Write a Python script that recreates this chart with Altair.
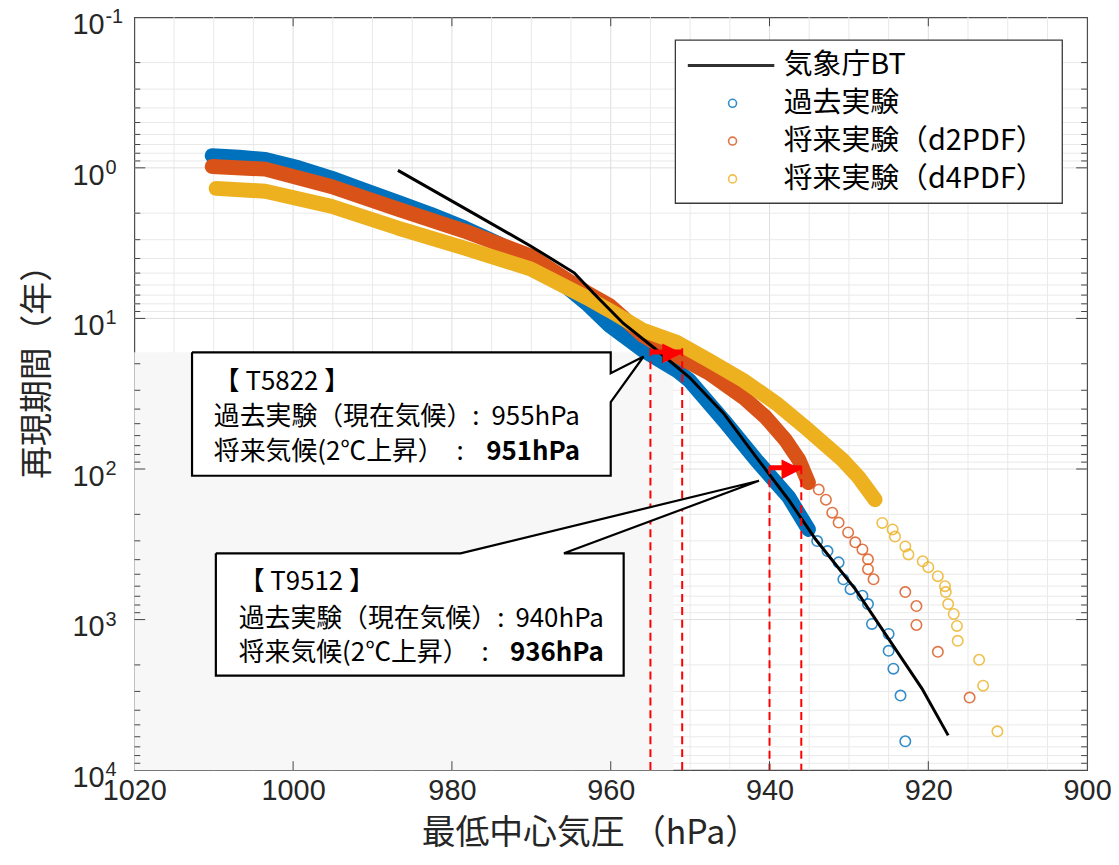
import altair as alt
import pandas as pd

JP = "Noto Sans CJK JP"
NUM = "Liberation Sans, Arial, sans-serif"

# ---------------- data ----------------
SERIES = ["気象庁BT", "過去実験", "将来実験（d2PDF）", "将来実験（d4PDF）"]
COLORS = ["#000000", "#0072BD", "#D95319", "#EDB120"]
SHAPES = ["M-11.25,-0.2L10.5,-0.2M-11.25,0.2L10.5,0.2", "circle", "circle", "circle"]

# 気象庁BT (line)
BT_P = [986.8, 978.0, 970.1, 964.6, 962.1, 958.4, 954.6, 950.1, 945.8, 941.7,
        937.6, 934.2, 929.2, 925.0, 920.8, 917.5]
BT_Y = [1.04, 1.91, 3.30, 4.98, 6.86, 10.8, 15.6, 24.6, 42.6, 83.1,
        160, 293, 628, 1343, 2872, 5875]

# 過去実験: dense band + sparse tail
PAST_BAND_P = [1010.2, 1006.8, 1003.5, 999.3, 995.2, 991.0, 986.8, 982.7, 978.4, 974.3,
               970.1, 966.8, 963.0, 960.1, 955.9, 951.7, 950.1, 945.8, 941.7, 937.6, 935.1]
PAST_BAND_Y = [0.83, 0.85, 0.88, 1.00, 1.17, 1.41, 1.69, 2.03, 2.51, 3.16,
               4.03, 5.46, 7.98, 11.2, 16.3, 22.1, 25.8, 47.3, 86.9, 153, 252]
PAST_TAIL_P = [934.0, 932.7, 931.3, 930.7, 929.8, 928.3, 927.6, 927.1, 925.0, 925.0,
               924.4, 923.5, 922.9]
PAST_TAIL_Y = [301, 351, 417, 540, 628, 695, 789, 1069, 1245, 1612,
               2119, 3197, 6427]

# 将来実験(d2PDF)
D2_BAND_P = [1010.2, 1003.5, 995.2, 986.8, 978.4, 970.1, 963.0, 960.1, 955.9, 951.7,
             947.6, 943.3, 940.5, 938.0, 936.3, 935.1]
D2_BAND_Y = [0.98, 1.02, 1.33, 1.88, 2.63, 3.85, 6.75, 8.23, 13.0, 17.6,
             23.1, 33.4, 45.2, 64.1, 86.9, 123]
D2_TAIL_P = [933.8, 932.9, 932.1, 931.3, 930.1, 929.2, 928.3, 927.6, 927.6, 926.9,
             922.9, 921.5, 921.5, 918.8, 914.8]
D2_TAIL_Y = [137, 160, 195, 227, 264, 307, 342, 398, 463, 540,
             657, 813, 1086, 1637, 3296]

# 将来実験(d4PDF)
D4_BAND_P = [1009.7, 1003.5, 995.2, 986.8, 978.4, 970.1, 963.0, 960.1, 955.9, 951.7,
             947.6, 943.3, 939.2, 935.1, 930.8, 928.8, 926.7]
D4_BAND_Y = [1.37, 1.43, 1.80, 2.51, 3.41, 4.69, 7.29, 8.88, 12.0, 14.4,
             19.0, 25.8, 36.5, 55.1, 86.9, 113, 160]
D4_TAIL_P = [925.8, 924.5, 924.2, 922.9, 922.5, 920.7, 920.0, 918.8, 917.9, 917.8,
             917.5, 916.8, 916.4, 916.3, 913.6, 913.1, 911.3]
D4_TAIL_Y = [228, 252, 281, 327, 369, 410, 449, 515, 600, 657,
             789, 918, 1102, 1384, 1849, 2746, 5520]

# axis ticks / grid
X_TICKS = [1020, 1000, 980, 960, 940, 920, 900]
X_GRID_MAJOR = [1000, 980, 960, 940, 920]
X_GRID_MINOR = [1015, 1010, 1005, 995, 990, 985, 975, 970, 965, 955, 950, 945,
                935, 930, 925, 915, 910, 905]
Y_TICKS = [0.1, 1, 10, 100, 1000, 10000]
Y_EXP = ["-1", "0", "1", "2", "3", "4"]
Y_GRID_MAJOR = [1, 10, 100, 1000]
Y_GRID_MINOR = [0.2, 0.3, 0.4, 0.5, 0.6, 0.7, 0.8, 0.9,
                2, 3, 4, 5, 6, 7, 8, 9,
                20, 30, 40, 50, 60, 70, 80, 90,
                200, 300, 400, 500, 600, 700, 800, 900,
                2000, 3000, 4000, 5000, 6000, 7000, 8000, 9000]

# annotations (data coordinates: hPa, years)
DASH_P = [955, 951, 940, 936]
DASH_TOP = [15.8, 15.8, 96, 96]
DASH_BOTTOM = [10000, 10000, 10000, 10000]
ARROW_FROM = [955, 940]
ARROW_TO = [951, 936]
ARROW_Y = [16.7, 98]
GRAY_P = [1020, 952.1]
GRAY_Y = [16.8, 10000]
LEGBOX_P = [951.86, 903.13]
LEGBOX_Y = [0.1419, 1.718]

BOX1_P = [1012.73, 960.0, 960.0, 955.86, 960.0, 960.0, 1012.73, 1012.73]
BOX1_Y = [16.8, 16.8, 23.1, 17.9, 36.0, 110.9, 110.9, 16.8]
BOX2_P = [1009.73, 978.91, 941.33, 965.89, 958.37, 958.37, 1009.73, 1009.73]
BOX2_Y = [363, 363, 119.7, 363, 363, 2358, 2358, 363]

NOTE_TEXT = ["【 T5822 】", "過去実験（現在気候）:", "将来気候(2℃上昇）　:",
             "【 T9512 】", "過去実験（現在気候）:", "将来気候(2℃上昇）　:"]
NOTE_P = [1009.98, 1009.98, 1009.98, 1006.85, 1006.85, 1006.85]
NOTE_Y = [26.5, 45.2, 77.0, 564.8, 991, 1662]
VAL_TEXT = ["955hPa", "951hPa", "940hPa", "936hPa"]
VAL_P = [963.88, 963.88, 960.87, 960.87]
VAL_Y = [45.2, 77.0, 991, 1662]
VAL_BOLD = [False, True, False, True]

# ---------------- chart ----------------
W, H = 958, 757

XS = alt.Scale(domain=[900, 1020], reverse=True, nice=False, zero=False)
YS = alt.Scale(type="log", domain=[0.1, 10000], reverse=True, nice=False)
XAX = alt.Axis(values=X_TICKS, labelFont=NUM, labelFontSize=29, labelColor="#262626",
               ticks=False, domain=False, grid=False, labelPadding=7, labelFlush=False,
               labelOverlap=False, format="d",
               title="最低中心気圧 （hPa）", titleFont=JP, titleFontSize=34,
               titleFontWeight="normal", titleColor="#262626",
               titleX=458, titleY=64, titleBaseline="middle", titleAlign="center")
YAX = alt.Axis(labels=False, ticks=False, domain=False, grid=False,
               title="再現期間（年）", titleFont=JP, titleFontSize=33,
               titleFontWeight="normal", titleColor="#262626", titleAngle=270,
               titleX=-97, titleY=348, titleAlign="center", titleBaseline="middle")
CS = alt.Scale(domain=SERIES, range=COLORS)
SS = alt.Scale(domain=SERIES, range=SHAPES)
LEG = alt.Legend(title=None, orient="none", legendX=587, legendY=34,
                 labelFont=JP, labelFontSize=29, labelColor="black", labelLimit=500,
                 symbolSize=64, symbolStrokeWidth=1.6, labelOffset=37, rowPadding=8,
                 padding=0)


def X(f="p"):
    return alt.X(f"{f}:Q", scale=XS, axis=XAX)


def Y(f="y"):
    return alt.Y(f"{f}:Q", scale=YS, axis=YAX)


def C():
    return alt.Color("s:N", scale=CS, legend=LEG)


def S():
    return alt.Shape("s:N", scale=SS, legend=LEG)


def df_series(name, ps, ys):
    return pd.DataFrame({"s": name, "p": ps, "y": ys, "i": list(range(len(ps)))})


layers = []

# grid
xg_min = pd.DataFrame({"p": X_GRID_MINOR})
xg_maj = pd.DataFrame({"p": X_GRID_MAJOR})
yg_min = pd.DataFrame({"y": Y_GRID_MINOR})
yg_maj = pd.DataFrame({"y": Y_GRID_MAJOR})
layers.append(alt.Chart(xg_min).mark_rule(color="#e9e9e9", strokeWidth=1).encode(
    x=X(), y=alt.value(0), y2=alt.value(H)))
layers.append(alt.Chart(xg_maj).mark_rule(color="#dedede", strokeWidth=1).encode(
    x=X(), y=alt.value(0), y2=alt.value(H)))
layers.append(alt.Chart(yg_min).mark_rule(color="#e9e9e9", strokeWidth=1).encode(
    y=Y(), x=alt.value(0), x2=alt.value(W)))
layers.append(alt.Chart(yg_maj).mark_rule(color="#dedede", strokeWidth=1).encode(
    y=Y(), x=alt.value(0), x2=alt.value(W)))

# light gray pasted region
gray = pd.DataFrame({"p": [GRAY_P[0]], "p2": [GRAY_P[1]], "y": [GRAY_Y[0]], "y2": [GRAY_Y[1]]})
layers.append(alt.Chart(gray).mark_rect(color="#f7f7f7").encode(
    x=X(), x2="p2:Q", y=Y(), y2="y2:Q"))

# legend frame (white box behind the legend entries)
legbox = pd.DataFrame({"p": [LEGBOX_P[0]], "p2": [LEGBOX_P[1]],
                       "y": [LEGBOX_Y[0]], "y2": [LEGBOX_Y[1]]})
layers.append(alt.Chart(legbox).mark_rect(fill="white", stroke="#3a3a3a",
                                          strokeWidth=1.3).encode(
    x=X(), x2="p2:Q", y=Y(), y2="y2:Q"))

# data series: band + tail circles
for name, bp, by, tp, ty in [
    (SERIES[1], PAST_BAND_P, PAST_BAND_Y, PAST_TAIL_P, PAST_TAIL_Y),
    (SERIES[2], D2_BAND_P, D2_BAND_Y, D2_TAIL_P, D2_TAIL_Y),
    (SERIES[3], D4_BAND_P, D4_BAND_Y, D4_TAIL_P, D4_TAIL_Y),
]:
    band = df_series(name, bp, by)
    tail = df_series(name, tp, ty)
    layers.append(alt.Chart(band).mark_line(strokeWidth=15, strokeCap="round",
                                            strokeJoin="round").encode(
        x=X(), y=Y(), color=C(), order="i:Q"))
    layers.append(alt.Chart(tail).mark_point(filled=False, size=110, strokeWidth=1.6,
                                             opacity=0.8).encode(
        x=X(), y=Y(), color=C(), shape=S()))

# 気象庁BT
bt = df_series(SERIES[0], BT_P, BT_Y)
layers.append(alt.Chart(bt).mark_line(strokeWidth=3).encode(
    x=X(), y=Y(), color=C(), order="i:Q"))

# red dashed guide lines
dash = pd.DataFrame({"p": DASH_P, "y": DASH_TOP, "y2": DASH_BOTTOM})
layers.append(alt.Chart(dash).mark_rule(color="#ff0000", strokeWidth=2,
                                        strokeDash=[8, 5]).encode(
    x=X(), y=Y(), y2="y2:Q"))

# arrows
arr = pd.DataFrame({"p": ARROW_FROM, "p2": ARROW_TO, "y": ARROW_Y})
layers.append(alt.Chart(arr).mark_rule(color="#ff0000", strokeWidth=5).encode(
    x=X(), x2="p2:Q", y=Y()))
head = pd.DataFrame({"p": ARROW_TO, "y": ARROW_Y, "t": ["▶", "▶"]})
layers.append(alt.Chart(head).mark_text(align="right", baseline="middle",
                                        font="DejaVu Sans", fontSize=26,
                                        color="#ff0000").encode(
    x=X(), y=Y(), text="t:N"))

# callout boxes
boxes = pd.concat([
    pd.DataFrame({"b": "1", "p": BOX1_P, "y": BOX1_Y, "i": list(range(len(BOX1_P)))}),
    pd.DataFrame({"b": "2", "p": BOX2_P, "y": BOX2_Y, "i": list(range(len(BOX2_P)))}),
])
layers.append(alt.Chart(boxes).mark_line(color="black", fill="white", strokeWidth=2.2,
                                         strokeJoin="miter", interpolate="linear").encode(
    x=X(), y=Y(), order="i:Q", detail="b:N"))

notes = pd.DataFrame({"p": NOTE_P, "y": NOTE_Y, "t": NOTE_TEXT})
layers.append(alt.Chart(notes).mark_text(align="left", baseline="middle", font=JP,
                                         fontSize=26, color="black").encode(
    x=X(), y=Y(), text="t:N"))
vals = pd.DataFrame({"p": VAL_P, "y": VAL_Y, "t": VAL_TEXT, "b": VAL_BOLD})
layers.append(alt.Chart(vals[~vals["b"]]).mark_text(align="right", baseline="middle",
                                                    font=JP, fontSize=26,
                                                    color="black").encode(
    x=X(), y=Y(), text="t:N"))
layers.append(alt.Chart(vals[vals["b"]]).mark_text(align="right", baseline="middle",
                                                   font=JP, fontSize=26, fontWeight="bold",
                                                   color="black").encode(
    x=X(), y=Y(), text="t:N"))

# y tick labels 10^n
ylab = pd.DataFrame({"y": Y_TICKS, "base": ["10"] * len(Y_TICKS), "e": Y_EXP})
layers.append(alt.Chart(ylab).mark_text(align="right", baseline="middle", dy=8,
                                        font=NUM, fontSize=29, color="#262626").encode(
    x=alt.value(-30), y=Y(), text="base:N"))
layers.append(alt.Chart(ylab).mark_text(align="left", baseline="middle", dy=0,
                                        font=NUM, fontSize=20, color="#262626").encode(
    x=alt.value(-29), y=Y(), text="e:N"))

# inner ticks
tick_col = "#444444"
xt = pd.DataFrame({"p": X_GRID_MAJOR})
layers.append(alt.Chart(xt).mark_rule(color=tick_col).encode(
    x=X(), y=alt.value(0), y2=alt.value(9)))
layers.append(alt.Chart(xt).mark_rule(color=tick_col).encode(
    x=X(), y=alt.value(H), y2=alt.value(H - 9)))
ytmaj = pd.DataFrame({"y": Y_GRID_MAJOR})
ytmin = pd.DataFrame({"y": Y_GRID_MINOR})
layers.append(alt.Chart(ytmaj).mark_rule(color=tick_col).encode(
    y=Y(), x=alt.value(0), x2=alt.value(11)))
layers.append(alt.Chart(ytmin).mark_rule(color=tick_col).encode(
    y=Y(), x=alt.value(0), x2=alt.value(6)))
layers.append(alt.Chart(ytmaj).mark_rule(color=tick_col).encode(
    y=Y(), x=alt.value(W), x2=alt.value(W - 11)))
layers.append(alt.Chart(ytmin).mark_rule(color=tick_col).encode(
    y=Y(), x=alt.value(W), x2=alt.value(W - 6)))

chart = alt.layer(*layers).properties(
    width=W, height=H,
    padding={"left": 127, "top": 7, "right": 24, "bottom": 85},
    autosize=alt.AutoSizeParams(type="none"),
    background="white",
).configure_view(stroke="#4d4d4d", strokeWidth=1.2)

chart.save("out.html", embed_options={"renderer": "svg", "actions": False})
